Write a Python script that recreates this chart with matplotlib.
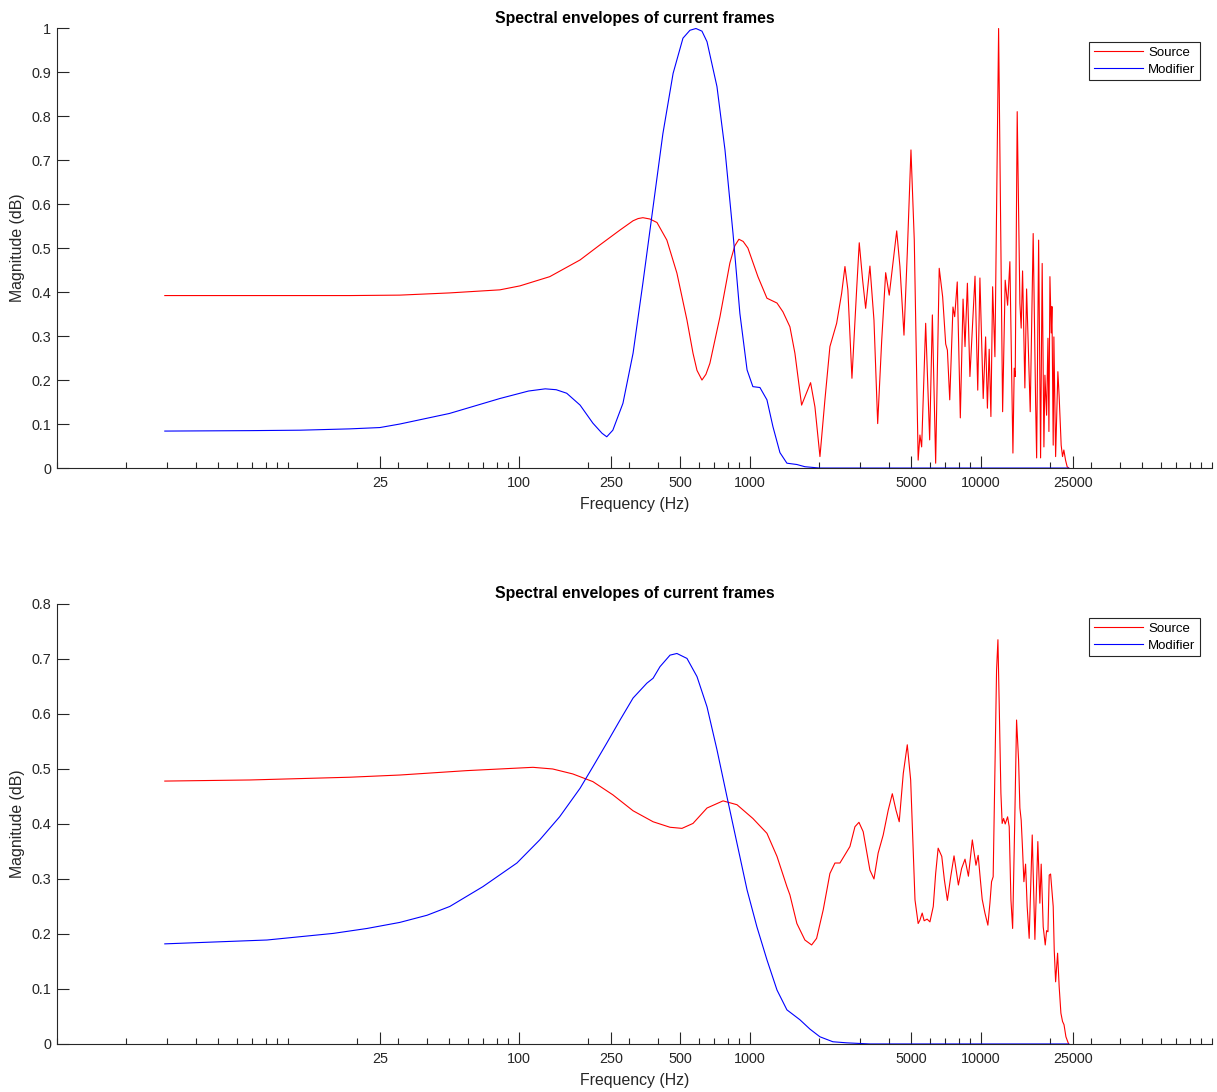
import numpy as np
import matplotlib.pyplot as plt
from matplotlib.ticker import FixedLocator, NullFormatter

plt.rcParams['font.family'] = ['Liberation Sans', 'DejaVu Sans']

# frame 1 - source envelope
src_f1 = [2.93, 6.85, 18.5, 30.5, 50, 82.7, 101, 136, 184, 224, 274, 312, 328, 344, 369, 396, 437, 483,
          534, 567, 590, 620, 645, 671, 742, 819, 860, 896, 935, 980, 1083, 1185, 1310, 1390, 1490, 1566, 1674,
          1831, 1912, 2010, 2112, 2220, 2374, 2495, 2579, 2655, 2765, 2897, 2974, 3076, 3170,
          3308, 3444, 3574, 3720, 3870, 4010, 4320, 4461, 4645, 4800, 4980, 5147, 5350, 5445,
          5540, 5766, 6000, 6164, 6370, 6600, 6830, 7040, 7160, 7330, 7570, 7700, 7900, 8145,
          8370, 8535, 8740, 8963, 9430, 9690, 9902, 10232, 10480, 10670, 10860, 11049, 11240,
          11500, 11930, 12417, 12740, 13050, 13350, 13760, 13940, 14080, 14360, 14750, 14940,
          15150, 15500, 15770, 16350, 16840, 17250, 17430, 17780, 18130, 18420, 18740, 18930,
          19250, 19510, 19700, 19900, 20160, 20300, 20560, 20700, 21060, 21540, 21820, 22260,
          22560, 22860, 23250, 23630, 24000]
src_m1 = [0.392, 0.392, 0.392, 0.393, 0.398, 0.405, 0.414, 0.435, 0.473, 0.507, 0.541, 0.562, 0.567,
          0.569, 0.566, 0.558, 0.518, 0.443, 0.336, 0.261, 0.222, 0.200, 0.213, 0.238, 0.344, 0.466, 0.505,
          0.520, 0.515, 0.500,
          0.435, 0.386, 0.375, 0.355, 0.321, 0.261, 0.143, 0.194, 0.139, 0.026, 0.155, 0.276,
          0.329, 0.397, 0.458, 0.405, 0.204, 0.405, 0.512, 0.427, 0.363, 0.459, 0.336, 0.101,
          0.290, 0.444, 0.393, 0.539, 0.458, 0.302, 0.488, 0.723, 0.518, 0.018, 0.075, 0.048,
          0.329, 0.064, 0.348, 0.011, 0.454, 0.389, 0.282, 0.268, 0.155, 0.366, 0.344, 0.423,
          0.114, 0.384, 0.276, 0.420, 0.208, 0.436, 0.177, 0.432, 0.158, 0.298, 0.136, 0.270,
          0.117, 0.412, 0.253, 0.999, 0.128, 0.427, 0.370, 0.469, 0.034, 0.227, 0.208, 0.810,
          0.375, 0.318, 0.448, 0.182, 0.407, 0.128, 0.533, 0.151, 0.023, 0.518, 0.023, 0.465,
          0.048, 0.211, 0.120, 0.295, 0.083, 0.435, 0.307, 0.367, 0.052, 0.298, 0.026, 0.219,
          0.162, 0.052, 0.026, 0.041, 0.018, 0.003, 0.0]

# frame 1 - modifier envelope
mod_f1 = [2.93, 6.85, 11.3, 18.5, 25, 30.5, 50, 82.7, 110, 130, 145, 161, 184, 209, 229, 240, 255,
          282, 312, 344, 381, 420, 465, 513, 550, 584, 620, 652, 720, 780, 845, 905, 972, 1030, 1105,
          1185, 1258, 1349, 1446, 1597, 1730, 2000, 24000]
mod_m1 = [0.084, 0.085, 0.086, 0.089, 0.092, 0.100, 0.124, 0.158, 0.175, 0.180, 0.178, 0.170, 0.143,
          0.102, 0.079, 0.071, 0.086, 0.147, 0.261, 0.420, 0.594, 0.760, 0.897, 0.977, 0.995, 0.999,
          0.993, 0.969, 0.867, 0.723, 0.533, 0.351, 0.223, 0.185, 0.183, 0.155, 0.094, 0.035, 0.011,
          0.008, 0.003, 0.0, 0.0]

# frame 2 - source envelope
src_f2 = [2.93, 6.85, 18.5, 30.5, 59.5, 82.7, 115, 140, 171, 209, 255, 312, 381, 451, 508, 567,
          652, 765, 879, 1030, 1185, 1310, 1446, 1490, 1597, 1730, 1850, 1944, 2077, 2220, 2334,
          2453, 2579, 2710, 2849, 2965, 3093, 3308, 3444, 3590, 3776, 3969, 4135, 4290, 4430,
          4613, 4800, 4965, 5184, 5350, 5445, 5570, 5680, 5850, 6016, 6220, 6370, 6530, 6770,
          6950, 7160, 7400, 7650, 7990, 8250, 8535, 8830, 9180, 9520, 9730, 9980, 10130, 10410,
          10720, 10940, 11120, 11300, 11500, 11690, 11850, 12000, 12207, 12360, 12540, 12740,
          13050, 13260, 13490, 13720, 13990, 14270, 14560, 14750, 14940, 15150, 15350, 15610,
          15860, 16180, 16680, 17130, 17640, 18000, 18240, 18610, 18990, 19250, 19510, 19760,
          20030, 20560, 20770, 21060, 21480, 21820, 22200, 22560, 22900, 23340, 23870, 24000]
src_m2 = [0.478, 0.480, 0.485, 0.489, 0.497, 0.500, 0.503, 0.500, 0.491, 0.477, 0.453, 0.424,
          0.404, 0.394, 0.392, 0.401, 0.429, 0.442, 0.435, 0.410, 0.383, 0.341, 0.286, 0.271,
          0.219, 0.189, 0.180, 0.192, 0.244, 0.310, 0.329, 0.329, 0.344, 0.359, 0.395, 0.403,
          0.386, 0.316, 0.300, 0.347, 0.380, 0.425, 0.455, 0.425, 0.404, 0.492, 0.544, 0.480,
          0.262, 0.219, 0.225, 0.238, 0.224, 0.227, 0.222, 0.250, 0.310, 0.356, 0.341, 0.298,
          0.261, 0.304, 0.342, 0.289, 0.319, 0.336, 0.305, 0.371, 0.325, 0.343, 0.292, 0.263,
          0.238, 0.216, 0.256, 0.295, 0.304, 0.498, 0.680, 0.735, 0.619, 0.456, 0.401, 0.410,
          0.400, 0.413, 0.395, 0.262, 0.210, 0.389, 0.589, 0.516, 0.429, 0.407, 0.353, 0.295,
          0.327, 0.250, 0.192, 0.380, 0.190, 0.368, 0.256, 0.327, 0.213, 0.180, 0.206, 0.204,
          0.307, 0.309, 0.250, 0.171, 0.113, 0.165, 0.104, 0.056, 0.041, 0.035, 0.013, 0.002,
          0.0]

# frame 2 - modifier envelope
mod_f2 = [2.93, 8.11, 15.7, 22.0, 30.5, 40, 50.2, 69.8, 98, 123, 150, 184, 209, 240, 274, 312, 358,
          381, 408, 451, 483, 534, 590, 652, 720, 795, 879, 972, 1072, 1185, 1310, 1446, 1646,
          1819, 2010, 2286, 2630, 3308, 24000]
mod_m2 = [0.182, 0.189, 0.201, 0.210, 0.221, 0.234, 0.250, 0.286, 0.329, 0.371, 0.413, 0.465, 0.504,
          0.547, 0.589, 0.629, 0.656, 0.665, 0.686, 0.707, 0.710, 0.701, 0.668, 0.613, 0.535,
          0.450, 0.365, 0.280, 0.213, 0.153, 0.098, 0.062, 0.044, 0.027, 0.013, 0.004, 0.002,
          0.0, 0.0]

freq_ticks = [25, 100, 250, 500, 1000, 5000, 10000, 25000]
freq_labels = ['25', '100', '250', '500', '1000', '5000', '10000', '25000']

axis_col = '#262626'
minor = [k * 10 ** n for n in range(0, 5) for k in range(1, 10)] + [100000]
minor = [m for m in minor if m not in freq_ticks]


def setup(ax, ymax):
    ax.set_xscale('log')
    ax.set_xlim(1, 100000)
    ax.set_ylim(0, ymax)
    ax.xaxis.set_major_locator(FixedLocator(freq_ticks))
    ax.set_xticklabels(freq_labels)
    ax.xaxis.set_minor_locator(FixedLocator(minor))
    ax.xaxis.set_minor_formatter(NullFormatter())
    yt = np.round(np.arange(0, ymax + 0.001, 0.1), 1)
    ax.set_yticks(yt)
    ax.set_yticklabels(['%g' % v for v in yt])
    for s in ['top', 'right']:
        ax.spines[s].set_visible(False)
    for s in ['left', 'bottom']:
        ax.spines[s].set_color(axis_col)
        ax.spines[s].set_linewidth(0.8)
    ax.tick_params(which='major', direction='in', length=8.3, width=0.8, color=axis_col,
                   labelsize=10.4, labelcolor=axis_col)
    ax.tick_params(axis='x', which='major', pad=6)
    ax.tick_params(axis='y', which='major', pad=4)
    ax.tick_params(which='minor', direction='in', length=4, width=0.8, color=axis_col)
    ax.set_xlabel('Frequency (Hz)', fontsize=11.4, color=axis_col, labelpad=5)
    ax.set_ylabel('Magnitude (dB)', fontsize=11.4, color=axis_col, labelpad=5)
    ax.set_title('Spectral envelopes of current frames', fontsize=11.4, fontweight='bold',
                 pad=4)
    leg = ax.legend(loc='upper right', bbox_to_anchor=(0.9896, 0.968), borderaxespad=0,
                    fontsize=9.5, fancybox=False, framealpha=1, edgecolor=axis_col,
                    handlelength=3.7, handletextpad=0.4, borderpad=0.35, labelspacing=0.35)
    leg.get_frame().set_linewidth(0.8)


fig = plt.figure(figsize=(12.17, 10.92), dpi=100)
ax1 = fig.add_axes([0.0468, 0.5714, 0.949, 0.4029])
ax2 = fig.add_axes([0.0468, 0.0440, 0.949, 0.4029])

ax1.plot(src_f1, src_m1, color='red', lw=0.8, label='Source')
ax1.plot(mod_f1, mod_m1, color='blue', lw=0.8, label='Modifier')
setup(ax1, 1.0)

ax2.plot(src_f2, src_m2, color='red', lw=0.8, label='Source')
ax2.plot(mod_f2, mod_m2, color='blue', lw=0.8, label='Modifier')
setup(ax2, 0.8)

fig.savefig('out.png', dpi=100)
